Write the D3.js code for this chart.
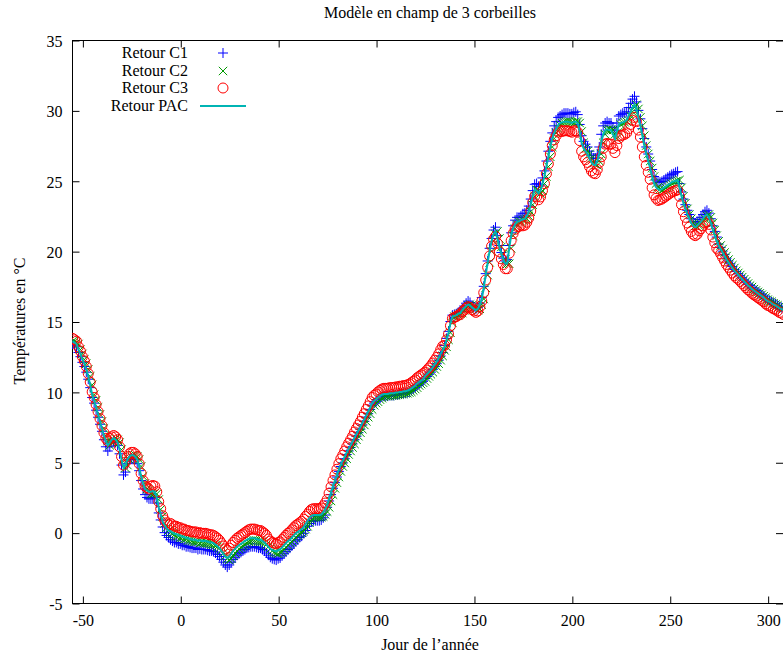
<!DOCTYPE html>
<html><head><meta charset="utf-8">
<script src="https://cdn.jsdelivr.net/npm/d3@7"></script>
<style>
html,body{margin:0;padding:0;background:#fff;}
text{font-family:"Liberation Serif","Times New Roman",serif;fill:#000;}
</style></head>
<body>
<script>
const title = "Modèle en champ de 3 corbeilles";
const xLabel = "Jour de l’année";
const yLabel = "Températures en °C";
const seriesNames = ["Retour C1", "Retour C2", "Retour C3", "Retour PAC"];
const startDay = -55;
const xTicks = [-50, 0, 50, 100, 150, 200, 250, 300];
const yTicks = [-5, 0, 5, 10, 15, 20, 25, 30, 35];

const retourPAC = [
13.6,13.5,13.4,13.0,12.7,12.3,12.0,11.6,11.1,10.5,
9.8,9.4,8.9,8.4,7.9,7.4,6.9,6.5,6.2,6.4,
6.6,6.7,6.6,6.4,5.9,5.2,4.6,4.8,5.2,5.4,
5.5,5.5,5.4,5.2,4.7,4.0,3.5,3.1,3.0,2.9,
2.9,2.95,2.9,2.5,1.8,1.3,0.8,0.5,0.3,0.15,
0.1,0.0,-0.1,-0.1,-0.2,-0.2,-0.3,-0.3,-0.4,-0.4,
-0.45,-0.5,-0.5,-0.5,-0.6,-0.55,-0.6,-0.6,-0.6,-0.65,
-0.7,-0.7,-0.75,-0.85,-0.95,-1.1,-1.3,-1.5,-1.7,-1.8,
-1.7,-1.5,-1.3,-1.15,-1.0,-0.9,-0.8,-0.7,-0.6,-0.5,
-0.45,-0.4,-0.4,-0.4,-0.45,-0.5,-0.5,-0.6,-0.7,-0.85,
-1.0,-1.15,-1.25,-1.3,-1.35,-1.25,-1.2,-1.05,-0.9,-0.75,
-0.6,-0.5,-0.35,-0.2,-0.05,0.05,0.15,0.25,0.4,0.6,
0.85,1.05,1.2,1.25,1.25,1.25,1.25,1.3,1.45,1.65,
1.95,2.4,2.85,3.3,3.7,4.1,4.5,4.85,5.1,5.4,
5.7,5.95,6.2,6.45,6.75,7.0,7.25,7.5,7.8,8.05,
8.35,8.6,8.9,9.2,9.35,9.45,9.6,9.7,9.8,9.85,
9.85,9.85,9.9,9.9,9.9,9.95,9.95,10.0,10.0,10.05,
10.05,10.1,10.15,10.25,10.35,10.45,10.6,10.7,10.8,10.9,
11.1,11.25,11.4,11.55,11.75,11.95,12.15,12.4,12.7,12.95,
13.2,13.7,14.2,14.9,15.35,15.4,15.45,15.55,15.6,15.8,
15.95,16.1,16.2,16.15,16.0,15.9,15.8,15.9,16.2,16.6,
17.4,18.3,19.2,20.0,20.7,21.2,21.4,20.9,20.3,19.8,
19.4,19.1,19.1,20.2,21.1,21.6,21.9,22.1,22.1,22.2,
22.25,22.3,22.5,22.8,23.3,23.9,24.35,24.3,24.1,24.3,
24.8,25.3,26.0,26.7,27.4,28.0,28.4,28.7,28.95,29.1,
29.15,29.2,29.2,29.2,29.15,29.1,29.2,29.2,29.1,28.5,
27.7,27.3,27.1,26.9,26.6,26.3,26.15,26.1,26.4,26.9,
27.7,28.3,28.6,28.65,28.6,28.6,28.3,28.0,28.5,29.0,
29.1,29.15,29.2,29.3,29.6,29.9,30.2,30.4,30.1,29.5,
28.9,28.2,27.5,26.9,26.4,25.9,25.3,24.8,24.55,24.4,
24.35,24.4,24.5,24.6,24.7,24.8,24.9,24.95,25.0,25.05,
24.5,23.9,23.4,23.0,22.6,22.3,22.0,21.8,21.7,21.8,
21.95,22.1,22.3,22.5,22.6,22.4,22.0,21.5,21.1,20.7,
20.4,20.15,19.9,19.65,19.4,19.2,19.0,18.8,18.6,18.45,
18.3,18.15,18.0,17.85,17.7,17.55,17.45,17.3,17.2,17.1,
17.0,16.9,16.8,16.7,16.55,16.45,16.4,16.3,16.2,16.15,
16.05,15.95,15.9,15.8];

const retourC1 = [
13.4,13.3,13.2,12.8,12.5,12.1,11.8,11.4,10.9,10.3,
9.6,9.2,8.7,8.2,7.7,7.2,6.6,6.1,5.8,6.1,
6.4,6.5,6.4,6.2,5.6,4.8,4.1,4.3,4.9,5.2,
5.3,5.3,5.2,4.9,4.4,3.7,3.1,2.7,2.5,2.4,
2.4,2.5,2.5,2.1,1.4,0.9,0.4,0.0,-0.2,-0.35,
-0.5,-0.6,-0.7,-0.7,-0.8,-0.8,-0.9,-0.9,-1.0,-1.0,
-1.05,-1.1,-1.1,-1.1,-1.2,-1.15,-1.2,-1.2,-1.2,-1.25,
-1.3,-1.3,-1.35,-1.45,-1.55,-1.7,-1.9,-2.1,-2.3,-2.45,
-2.3,-2.1,-1.9,-1.75,-1.6,-1.5,-1.4,-1.3,-1.2,-1.1,
-1.05,-1.0,-1.0,-1.0,-1.05,-1.1,-1.1,-1.2,-1.3,-1.45,
-1.6,-1.75,-1.85,-1.9,-1.95,-1.85,-1.8,-1.65,-1.5,-1.35,
-1.2,-1.1,-0.95,-0.8,-0.6,-0.5,-0.35,-0.25,-0.05,0.15,
0.45,0.65,0.8,0.85,0.85,0.85,0.85,0.9,1.05,1.25,
1.8,2.25,2.7,3.15,3.55,3.95,4.35,4.7,4.95,5.25,
5.55,5.8,6.05,6.3,6.6,6.85,7.1,7.35,7.65,7.9,
8.2,8.45,8.75,9.05,9.2,9.3,9.45,9.55,9.65,9.7,
9.7,9.7,9.75,9.75,9.75,9.8,9.8,9.85,9.85,9.9,
9.9,9.95,10.0,10.1,10.2,10.3,10.45,10.55,10.65,10.75,
10.95,11.1,11.25,11.4,11.6,11.8,12.0,12.25,12.55,12.8,
13.3,13.8,14.3,15.0,15.45,15.5,15.55,15.65,15.7,15.9,
16.1,16.3,16.45,16.35,16.1,16.0,15.9,16.0,16.3,16.7,
17.5,18.4,19.3,20.2,20.9,21.5,21.7,21.1,20.4,19.9,
19.5,19.3,19.4,20.4,21.3,21.8,22.2,22.4,22.4,22.5,
22.65,22.7,22.9,23.2,23.7,24.3,24.75,24.8,24.6,24.7,
25.2,25.7,26.4,27.1,27.8,28.4,28.9,29.2,29.5,29.6,
29.7,29.8,29.8,29.8,29.75,29.75,29.85,29.9,29.7,29.0,
28.2,27.8,27.6,27.4,27.1,26.8,26.6,26.6,26.9,27.4,
28.3,28.9,29.1,29.2,29.1,29.1,28.8,28.6,29.1,29.6,
29.7,29.8,29.8,29.9,30.2,30.5,30.8,31.0,30.6,30.0,
29.4,28.7,28.0,27.4,26.9,26.4,25.8,25.3,25.05,24.9,
24.9,24.95,25.05,25.15,25.25,25.35,25.45,25.5,25.6,25.65,
24.8,24.2,23.7,23.3,22.9,22.6,22.3,22.1,22.0,22.1,
22.25,22.4,22.6,22.8,22.9,22.7,22.3,21.8,21.4,21.0,
20.5,20.25,20.0,19.75,19.5,19.3,19.1,18.9,18.7,18.55,
18.4,18.25,18.1,17.95,17.8,17.65,17.55,17.4,17.3,17.2,
17.1,17.0,16.9,16.8,16.65,16.55,16.5,16.4,16.3,16.25,
16.15,16.05,16.0,15.9];

const retourC2 = [
13.6,13.6,13.5,13.4,13.0,12.7,12.3,12.0,11.6,11.1,
10.5,9.8,9.4,8.9,8.4,7.9,7.4,6.9,6.5,6.2,
6.4,6.6,6.7,6.6,6.4,5.9,5.2,4.6,4.8,5.2,
5.4,5.5,5.5,5.4,5.2,4.7,4.0,3.5,3.1,3.0,
2.75,2.75,2.8,2.75,2.35,1.65,1.15,0.65,0.35,0.15,
0.0,-0.05,-0.15,-0.25,-0.25,-0.35,-0.35,-0.45,-0.45,-0.55,
-0.55,-0.6,-0.65,-0.65,-0.65,-0.75,-0.7,-0.75,-0.75,-0.75,
-0.8,-0.85,-0.85,-0.9,-1.0,-1.1,-1.25,-1.45,-1.65,-1.85,
-1.95,-1.85,-1.65,-1.45,-1.3,-1.15,-1.05,-0.95,-0.85,-0.75,
-0.65,-0.6,-0.55,-0.55,-0.55,-0.6,-0.65,-0.65,-0.75,-0.85,
-1.0,-1.15,-1.3,-1.4,-1.45,-1.5,-1.4,-1.35,-1.2,-1.05,
-0.9,-0.75,-0.65,-0.5,-0.35,-0.2,-0.1,0.0,0.1,0.25,
0.45,0.7,0.9,1.05,1.1,1.1,1.1,1.1,1.15,1.3,
1.5,1.8,2.25,2.7,3.15,3.55,3.95,4.35,4.7,4.95,
5.25,5.55,5.8,6.05,6.3,6.6,6.85,7.1,7.35,7.65,
7.9,8.2,8.45,8.75,9.05,9.2,9.3,9.45,9.55,9.65,
9.7,9.7,9.7,9.75,9.75,9.75,9.8,9.8,9.85,9.85,
9.9,9.9,9.95,10.0,10.1,10.2,10.3,10.45,10.55,10.65,
10.75,10.95,11.1,11.25,11.4,11.6,11.8,12.0,12.25,12.55,
12.95,13.2,13.7,14.2,14.9,15.35,15.4,15.45,15.55,15.6,
15.8,15.95,16.1,16.2,16.15,16.0,15.9,15.8,15.9,16.2,
16.6,17.4,18.3,19.2,20.0,20.7,21.2,21.4,20.9,20.3,
19.8,19.4,19.1,19.1,20.2,21.1,21.6,21.9,22.1,22.1,
22.2,22.25,22.3,22.5,22.8,23.3,23.9,24.35,24.3,24.1,
24.3,24.8,25.3,26.0,26.7,27.4,28.0,28.4,28.7,28.95,
29.1,29.15,29.2,29.2,29.2,29.15,29.1,29.2,29.2,29.1,
28.5,27.7,27.3,27.1,26.9,26.6,26.3,26.15,26.1,26.4,
26.9,27.7,28.3,28.6,28.65,28.6,28.6,28.3,28.0,28.5,
29.0,29.1,29.15,29.2,29.3,29.6,29.9,30.2,30.4,30.1,
29.5,28.9,28.2,27.5,26.9,26.4,25.9,25.3,24.8,24.55,
24.4,24.35,24.4,24.5,24.6,24.7,24.8,24.9,24.95,25.0,
25.05,24.5,23.9,23.4,23.0,22.6,22.3,22.0,21.8,21.7,
21.8,21.95,22.1,22.3,22.5,22.6,22.4,22.0,21.5,21.1,
20.7,20.4,20.15,19.9,19.65,19.4,19.2,19.0,18.8,18.6,
18.45,18.3,18.15,18.0,17.85,17.7,17.55,17.45,17.3,17.2,
17.1,17.0,16.9,16.8,16.7,16.55,16.45,16.4,16.3,16.2,
16.15,16.05,15.95,15.9];

const retourC3 = [
13.8,13.7,13.6,13.2,12.9,12.5,12.2,11.8,11.3,10.7,
10.0,9.6,9.1,8.6,8.1,7.6,7.1,6.7,6.5,6.7,
6.8,6.9,6.8,6.6,6.1,5.4,4.8,5.0,5.4,5.6,
5.7,5.7,5.6,5.4,4.9,4.2,3.7,3.3,3.2,3.1,
3.3,3.35,3.3,2.9,2.2,1.7,1.2,0.9,0.7,0.55,
0.65,0.55,0.45,0.45,0.35,0.35,0.25,0.25,0.15,0.15,
0.1,0.05,0.05,0.05,-0.05,0.0,-0.05,-0.05,-0.05,-0.1,
-0.15,-0.15,-0.2,-0.3,-0.4,-0.55,-0.75,-0.95,-1.15,-1.25,
-1.1,-0.9,-0.7,-0.55,-0.4,-0.3,-0.2,-0.1,0.0,0.1,
0.2,0.25,0.25,0.25,0.2,0.15,0.15,0.05,-0.05,-0.2,
-0.45,-0.6,-0.7,-0.75,-0.8,-0.7,-0.65,-0.5,-0.35,-0.2,
-0.05,0.05,0.2,0.35,0.5,0.6,0.7,0.8,0.95,1.15,
1.3,1.5,1.65,1.7,1.7,1.7,1.7,1.75,1.9,2.1,
2.35,2.8,3.25,3.7,4.1,4.5,4.9,5.25,5.5,5.8,
6.1,6.35,6.6,6.85,7.15,7.4,7.65,7.9,8.2,8.45,
8.75,9.0,9.3,9.6,9.75,9.85,10.0,10.1,10.2,10.25,
10.25,10.25,10.3,10.3,10.3,10.35,10.35,10.4,10.4,10.45,
10.45,10.5,10.55,10.65,10.75,10.85,11.0,11.1,11.2,11.3,
11.4,11.55,11.7,11.85,12.05,12.25,12.45,12.7,13.0,13.25,
13.3,13.7,14.1,14.7,15.2,15.3,15.35,15.45,15.5,15.7,
15.8,15.95,16.05,16.0,15.85,15.75,15.65,15.75,16.05,16.45,
17.05,17.95,18.85,19.65,20.35,20.85,21.05,20.55,19.95,19.45,
19.05,18.75,18.75,19.85,20.75,21.25,21.55,21.75,21.75,21.85,
21.8,21.85,22.05,22.35,22.85,23.45,23.9,23.85,23.65,23.85,
24.3,24.8,25.5,26.2,26.9,27.5,27.9,28.2,28.45,28.6,
28.5,28.55,28.55,28.55,28.5,28.45,28.55,28.55,28.45,27.85,
27.1,26.7,26.5,26.3,26.0,25.7,25.55,25.5,25.8,26.3,
26.7,27.3,27.6,27.65,27.6,27.6,27.3,27.0,27.5,28.0,
28.2,28.25,28.3,28.4,28.7,29.0,29.3,29.5,29.2,28.6,
28.1,27.4,26.7,26.1,25.6,25.1,24.5,24.0,23.75,23.6,
23.65,23.7,23.8,23.9,24.0,24.1,24.2,24.25,24.3,24.35,
23.9,23.3,22.8,22.4,22.0,21.7,21.4,21.2,21.1,21.2,
21.45,21.6,21.8,22.0,22.1,21.9,21.5,21.0,20.6,20.2,
20.05,19.8,19.55,19.3,19.05,18.85,18.65,18.45,18.25,18.1,
18.0,17.85,17.7,17.55,17.4,17.25,17.15,17.0,16.9,16.8,
16.7,16.6,16.5,16.4,16.25,16.15,16.1,16.0,15.9,15.85,
15.75,15.65,15.6,15.5];

const W = 783, H = 657;
const pLeft = 72, pRight = 783.5, pTop = 40, pBottom = 603;
const svg = d3.select("body").append("svg").attr("width", W).attr("height", H);

const x = d3.scaleLinear().domain([-55.3, 308.1]).range([pLeft, pRight]);
const y = d3.scaleLinear().domain([-5, 35]).range([pBottom, pTop]);
const toPts = arr => arr.map((v, i) => ({d: startDay + i, v}));
const fmt = d => String(d);

svg.append("clipPath").attr("id", "clip").append("rect")
  .attr("x", pLeft).attr("y", pTop).attr("width", pRight - pLeft).attr("height", pBottom - pTop);

// border
svg.append("rect").attr("x", pLeft + 0.5).attr("y", pTop + 0.5)
  .attr("width", pRight - pLeft).attr("height", pBottom - pTop)
  .attr("fill", "none").attr("stroke", "#000").attr("stroke-width", 1);

// axes (ticks inward, mirrored)
const tl = 7;
const gxB = svg.append("g").attr("transform", `translate(0.5,${pBottom + 0.5})`)
  .call(d3.axisBottom(x).tickValues(xTicks).tickSize(-tl).tickPadding(11).tickFormat(fmt));
const gxT = svg.append("g").attr("transform", `translate(0.5,${pTop + 0.5})`)
  .call(d3.axisTop(x).tickValues(xTicks).tickSize(-tl).tickFormat(""));
const gyL = svg.append("g").attr("transform", `translate(${pLeft + 0.5},0.5)`)
  .call(d3.axisLeft(y).tickValues(yTicks).tickSize(-tl).tickPadding(10).tickFormat(fmt));
const gyR = svg.append("g").attr("transform", `translate(${pRight - 0.5},0.5)`)
  .call(d3.axisRight(y).tickValues(yTicks).tickSize(-tl).tickFormat(""));
[gxB, gxT, gyL, gyR].forEach(g => {
  g.select(".domain").remove();
  g.selectAll(".tick line").attr("stroke", "#000");
  g.selectAll(".tick text").attr("font-family", "Liberation Serif, serif").attr("font-size", 16).attr("fill", "#000");
});
gyL.selectAll(".tick text").attr("dy", "0.36em");

const plot = svg.append("g").attr("clip-path", "url(#clip)");
const s = 5;

// C1 plus
plot.append("g").selectAll("path").data(toPts(retourC1)).join("path")
  .attr("d", p => `M${x(p.d) - s},${y(p.v)}h${2 * s}M${x(p.d)},${y(p.v) - s}v${2 * s}`)
  .attr("stroke", "#0000ff").attr("stroke-width", 1).attr("fill", "none");
// C2 cross
const c = 4.2;
plot.append("g").selectAll("path").data(toPts(retourC2)).join("path")
  .attr("d", p => `M${x(p.d) - c},${y(p.v) - c}l${2 * c},${2 * c}M${x(p.d) - c},${y(p.v) + c}l${2 * c},${-2 * c}`)
  .attr("stroke", "#009900").attr("stroke-width", 1).attr("fill", "none");
// C3 circles
plot.append("g").selectAll("circle").data(toPts(retourC3)).join("circle")
  .attr("cx", p => x(p.d)).attr("cy", p => y(p.v)).attr("r", 5)
  .attr("stroke", "#ff0000").attr("stroke-width", 1).attr("fill", "none");
// PAC line
plot.append("path").datum(toPts(retourPAC))
  .attr("d", d3.line().x(p => x(p.d)).y(p => y(p.v)))
  .attr("stroke", "#00b4b4").attr("stroke-width", 2).attr("fill", "none");

// titles
svg.append("text").attr("x", 430).attr("y", 18).attr("text-anchor", "middle").attr("font-size", 16).text(title);
svg.append("text").attr("x", 430).attr("y", 650).attr("text-anchor", "middle").attr("font-size", 16).text(xLabel);
svg.append("text").attr("transform", "translate(25,321) rotate(-90)").attr("text-anchor", "middle").attr("font-size", 16).text(yLabel);

// legend
const legY = [53, 71, 88, 106];
const lg = svg.append("g");
seriesNames.forEach((n, i) => {
  lg.append("text").attr("x", 188).attr("y", legY[i] + 5).attr("text-anchor", "end").attr("font-size", 16).text(n);
});
const sx = 223;
lg.append("path").attr("d", `M${sx - s},${legY[0]}h${2 * s}M${sx},${legY[0] - s}v${2 * s}`).attr("stroke", "#0000ff").attr("fill", "none");
lg.append("path").attr("d", `M${sx - c},${legY[1] - c}l${2 * c},${2 * c}M${sx - c},${legY[1] + c}l${2 * c},${-2 * c}`).attr("stroke", "#009900").attr("fill", "none");
lg.append("circle").attr("cx", sx).attr("cy", legY[2]).attr("r", 5).attr("stroke", "#ff0000").attr("fill", "none");
lg.append("line").attr("x1", 200).attr("x2", 246).attr("y1", legY[3]).attr("y2", legY[3]).attr("stroke", "#00b4b4").attr("stroke-width", 2);
</script>
</body></html>
